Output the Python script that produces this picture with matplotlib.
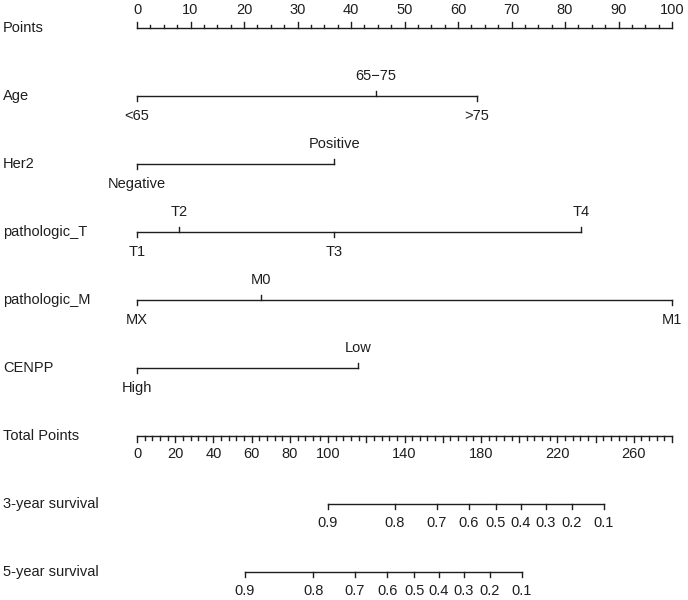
import numpy as np
import matplotlib
matplotlib.use("Agg")
import matplotlib.pyplot as plt
import matplotlib.transforms as mtransforms

plt.rcParams['font.family'] = ['Liberation Sans', 'DejaVu Sans']

# ---- data ----
row_names = ['Points', 'Age', 'Her2', 'pathologic_T', 'pathologic_M', 'CENPP',
             'Total Points', '3-year survival', '5-year survival']

age_levels = ['<65', '65\u221275', '>75']
age_points = [0, 44.7, 63.5]
age_side = ['below', 'above', 'below']

her2_levels = ['Negative', 'Positive']
her2_points = [0, 36.9]
her2_side = ['below', 'above']

t_levels = ['T1', 'T2', 'T3', 'T4']
t_points = [0, 7.8, 36.8, 83.0]
t_side = ['below', 'above', 'below', 'above']

m_levels = ['MX', 'M0', 'M1']
m_points = [0, 23.1, 100]
m_side = ['below', 'above', 'below']

cenpp_levels = ['High', 'Low']
cenpp_points = [0, 41.4]
cenpp_side = ['below', 'above']

total_max = 280
total_labels = [0, 20, 40, 60, 80, 100, 140, 180, 220, 260]

surv_probs = [0.9, 0.8, 0.7, 0.6, 0.5, 0.4, 0.3, 0.2, 0.1]
surv3_total = [99.8, 135.0, 156.8, 173.6, 187.9, 200.9, 213.9, 227.5, 244.4]
surv5_total = [56.5, 92.3, 114.1, 130.9, 145.1, 158.0, 171.1, 184.6, 201.5]

# ---- layout ----
W, H = 688, 600
PX_PER_PT = 5.35     # pixels per "Points" unit
X0 = 137             # pixel of Points = 0
ROW_PX = 68          # pixels between rows
Y0 = 28              # pixel of first row
px = 1.0 / ROW_PX    # one pixel in row units
LC = '#1e1e1e'
FS = 10.5
LW = 1.0

fig = plt.figure(figsize=(W / 100, H / 100), dpi=100)
ax = fig.add_axes([0, 0, 1, 1])
ax.set_xlim(-X0 / PX_PER_PT, (W - X0) / PX_PER_PT)
ax.set_ylim((H - Y0) / ROW_PX, -Y0 / ROW_PX)
ax.axis('off')

label_tr = mtransforms.blended_transform_factory(fig.transFigure, ax.transData)
for i, name in enumerate(row_names):
    ax.text(3 / W, i, name, transform=label_tr, ha='left', va='center',
            fontsize=FS, color=LC)

# Points scale
ax.plot([0, 100], [0, 0], color=LC, lw=LW)
for v in np.arange(0, 100.01, 2.5):
    major = v % 10 == 0
    ax.plot([v, v], [0, -(6 if major else 3.5) * px], color=LC, lw=LW)
    if major:
        ax.text(v, -18 * px, f'{int(v)}', ha='center', va='center', fontsize=FS, color=LC)


def factor_row(row, levels, pts, sides):
    ax.plot([min(pts), max(pts)], [row, row], color=LC, lw=LW)
    for lab, p, s in zip(levels, pts, sides):
        d = -1 if s == 'above' else 1
        ax.plot([p, p], [row, row + d * 5 * px], color=LC, lw=LW)
        ax.text(p, row + d * 20 * px, lab, ha='center', va='center', fontsize=FS, color=LC)


factor_row(1, age_levels, age_points, age_side)
factor_row(2, her2_levels, her2_points, her2_side)
factor_row(3, t_levels, t_points, t_side)
factor_row(4, m_levels, m_points, m_side)
factor_row(5, cenpp_levels, cenpp_points, cenpp_side)

# Total points scale
scale = 100 / total_max
ax.plot([0, 100], [6, 6], color=LC, lw=LW)
for v in np.arange(0, total_max + 0.1, 4):
    major = v % 20 == 0
    ax.plot([v * scale] * 2, [6, 6 + (5.5 if major else 3.5) * px], color=LC, lw=LW)
for v in total_labels:
    ax.text(v * scale, 6 + 18 * px, f'{v}', ha='center', va='center', fontsize=FS, color=LC)


def surv_row(row, totals):
    xs = [t * scale for t in totals]
    ax.plot([min(xs), max(xs)], [row, row], color=LC, lw=LW)
    for x, p in zip(xs, surv_probs):
        ax.plot([x, x], [row, row + 5 * px], color=LC, lw=LW)
        ax.text(x, row + 19 * px, f'{p:.1f}', ha='center', va='center', fontsize=FS, color=LC)


surv_row(7, surv3_total)
surv_row(8, surv5_total)

fig.savefig('out.png', dpi=100)
